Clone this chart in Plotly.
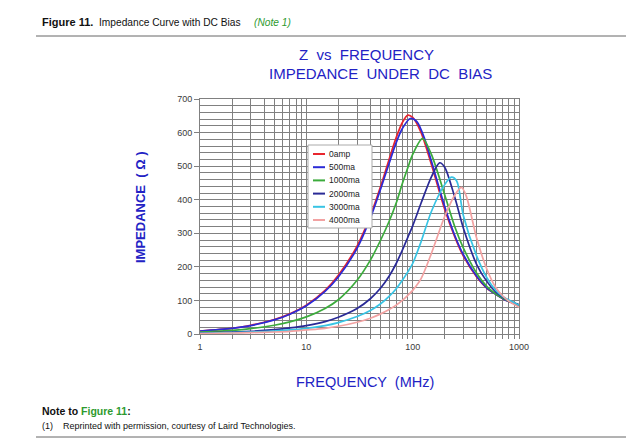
import plotly.graph_objects as go

# ---------------- data ----------------
series_names = ["0amp", "500ma", "1000ma", "2000ma", "3000ma", "4000ma"]
series_colors = ["#e8262e", "#2b2bd6", "#3cab3c", "#2a2a96", "#38c4e4", "#f2a2a2"]

freq_0amp = [1, 2, 3, 5, 7, 10, 15, 20, 30, 40, 50, 60, 70, 80, 90, 100, 120, 150, 200, 250, 300, 400, 500, 600, 700, 800, 1000]
z_0amp = [9, 17, 26, 43, 60, 86, 130, 175, 262, 352, 440, 520, 585, 630, 652, 645, 600, 505, 372, 288, 232, 170, 136, 119, 106, 97, 86]

freq_500ma = [1, 2, 3, 5, 7, 10, 15, 20, 30, 40, 50, 60, 70, 80, 95, 110, 130, 150, 200, 250, 300, 400, 500, 600, 700, 800, 1000]
z_500ma = [9, 17, 25, 42, 59, 84, 127, 170, 255, 345, 432, 508, 570, 612, 642, 632, 580, 515, 380, 292, 236, 172, 137, 119, 106, 97, 86]

freq_1000ma = [1, 2, 3, 5, 7, 10, 15, 20, 30, 40, 50, 60, 70, 80, 90, 100, 124, 150, 200, 250, 300, 400, 500, 600, 700, 800, 1000]
z_1000ma = [6, 11, 16, 26, 36, 51, 76, 102, 160, 220, 280, 335, 390, 448, 495, 535, 583, 535, 415, 318, 256, 181, 141, 120, 107, 98, 86]

freq_2000ma = [1, 2, 3, 5, 7, 10, 15, 20, 30, 40, 50, 60, 70, 80, 90, 100, 120, 150, 179, 200, 250, 300, 400, 500, 600, 700, 800, 1000]
z_2000ma = [3, 6, 8, 13, 18, 25, 37, 50, 76, 105, 137, 172, 210, 250, 288, 322, 390, 468, 510, 497, 405, 315, 207, 156, 126, 110, 100, 87]

freq_3000ma = [1, 2, 3, 5, 7, 10, 15, 20, 30, 40, 50, 60, 70, 80, 90, 100, 120, 150, 200, 232, 260, 300, 400, 500, 600, 700, 800, 1000]
z_3000ma = [2, 4, 6, 9, 12, 17, 25, 34, 52, 70, 90, 112, 135, 160, 185, 210, 275, 365, 445, 467, 455, 352, 232, 167, 131, 112, 101, 86]

freq_4000ma = [1, 2, 3, 5, 7, 10, 15, 20, 30, 40, 50, 60, 70, 80, 90, 100, 120, 150, 200, 250, 288, 320, 400, 500, 600, 700, 800, 1000]
z_4000ma = [1, 3, 4, 6, 8, 12, 17, 23, 35, 47, 60, 73, 86, 100, 115, 130, 165, 240, 350, 415, 437, 410, 285, 192, 140, 114, 98, 80]

series_freqs = [freq_0amp, freq_500ma, freq_1000ma, freq_2000ma, freq_3000ma, freq_4000ma]
series_values = [z_0amp, z_500ma, z_1000ma, z_2000ma, z_3000ma, z_4000ma]

x_tick_values = [m * 10 ** d for d in range(3) for m in range(1, 10)] + [1000]
x_tick_labels = [str(v) if v in (1, 10, 100, 1000) else "" for v in x_tick_values]
y_tick_values = [0, 100, 200, 300, 400, 500, 600, 700]
y_tick_labels = [str(v) for v in y_tick_values]

# ---------------- geometry helpers (page pixel coords) ----------------
OFF = 8                      # the page body margin offsets the figure
W, H = 636 - OFF, 440 - OFF
L, R, T, B = 200, 519, 99, 334


def px(x):
    return (x - L) / (R - L)


def py(y):
    return (B - y) / (B - T)


fig = go.Figure()
for name, color, f, z in zip(series_names, series_colors, series_freqs, series_values):
    fig.add_trace(go.Scatter(
        x=f, y=z, name=name, mode="lines", showlegend=False,
        line=dict(color=color, width=1.7, shape="spline", smoothing=0.8),
    ))

grid_color = "#808080"
fig.update_layout(
    width=W, height=H,
    margin=dict(l=L - OFF, r=W - (R - OFF), t=T - OFF, b=H - (B - OFF)),
    paper_bgcolor="white", plot_bgcolor="white",
    font=dict(family="Liberation Sans, Arial, sans-serif", color="#333"),
    showlegend=False,
    xaxis=dict(
        type="log", range=[0, 3],
        tickmode="array", tickvals=x_tick_values, ticktext=x_tick_labels,
        showgrid=True, gridcolor=grid_color, gridwidth=1,
        ticks="outside", ticklen=4, tickcolor=grid_color,
        tickfont=dict(size=9, color="#3a3a3a"),
        showline=True, linecolor=grid_color, mirror=True, zeroline=False,
    ),
    yaxis=dict(
        range=[0, 700], tickmode="array", tickvals=y_tick_values, ticktext=y_tick_labels,
        showgrid=True, gridcolor=grid_color, gridwidth=1,
        minor=dict(dtick=20, showgrid=True, gridcolor=grid_color, gridwidth=1),
        ticks="outside", ticklen=5, tickcolor=grid_color,
        tickfont=dict(size=9, color="#3a3a3a"),
        showline=True, linecolor=grid_color, mirror=True, zeroline=False,
    ),
)

# ---------------- legend box (drawn as decoration) ----------------
fig.add_shape(type="rect", xref="paper", yref="paper", x0=px(308), x1=px(372), y0=py(145), y1=py(228),
              fillcolor="white", line=dict(color="#aaaaaa", width=1), layer="above")
for i, (name, color) in enumerate(zip(series_names, series_colors)):
    yy = 154 + i * 13.2
    fig.add_shape(type="line", xref="paper", yref="paper", x0=px(313), x1=px(325), y0=py(yy), y1=py(yy),
                  line=dict(color=color, width=2), layer="above")
    fig.add_annotation(xref="paper", yref="paper", x=px(327), y=py(yy), xanchor="left", yanchor="middle",
                       showarrow=False, text=name, font=dict(size=8.5, color="#222"))

blue = "#2222c4"
ann = [
    dict(x=px(366), y=py(55), text="Z  vs  FREQUENCY", font=dict(size=15, color=blue)),
    dict(x=px(380), y=py(73), text="IMPEDANCE  UNDER  DC  BIAS", font=dict(size=15, color=blue)),
    dict(x=px(140), y=py(207), text="<b>IMPEDANCE  ( Ω )</b>", textangle=-90, font=dict(size=13, color=blue)),
    dict(x=px(365), y=py(382), text="FREQUENCY  (MHz)", font=dict(size=14.5, color=blue)),
]
for a in ann:
    fig.add_annotation(xref="paper", yref="paper", showarrow=False, xanchor="center", yanchor="middle", **a)

# header and note texts
texts = [
    (40, 22, "<b>Figure 11.</b>", 11, "#111"),
    (97, 22, "Impedance Curve with DC Bias", 10.2, "#111"),
    (252, 22, "<i>(Note 1)</i>", 10.2, "#2e9a2e"),
    (40, 411, "<b>Note to <span style='color:#2e9a2e'>Figure 11</span>:</b>", 10.5, "#111"),
    (40, 426, "(1)    Reprinted with permission, courtesy of Laird Technologies.", 9, "#111"),
]
for x, y, t, s, c in texts:
    fig.add_annotation(xref="paper", yref="paper", x=px(x), y=py(y), xanchor="left", yanchor="middle",
                       showarrow=False, text=t, font=dict(size=s, color=c))

for yline in (36, 437):
    fig.add_shape(type="line", xref="paper", yref="paper", x0=px(36), x1=px(626), y0=py(yline), y1=py(yline),
                  line=dict(color="#666", width=1))

fig.write_html("out.html")
